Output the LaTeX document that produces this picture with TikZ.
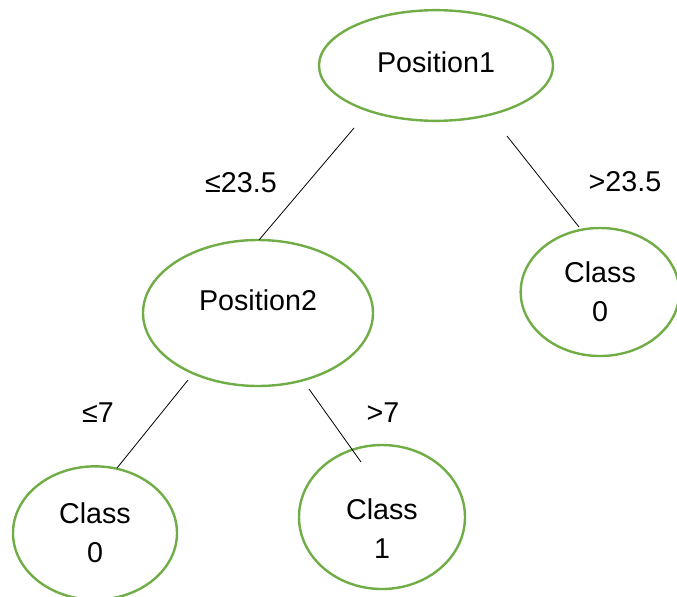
\documentclass[tikz,border=0pt]{standalone}
\usepackage{fontspec}
\setmainfont{Liberation Sans}
\usetikzlibrary{shapes.geometric}
\definecolor{leafgreen}{HTML}{70AD47}
\begin{document}
\begin{tikzpicture}[x=0.75pt,y=-0.75pt,
  treenode/.style={ellipse,draw=leafgreen,line width=1.8pt,inner sep=0pt,
    align=center,font=\fontsize{21.5}{29}\selectfont},
  edge/.style={draw=black,line width=0.6pt},
  edgelabel/.style={font=\fontsize{21.5}{29}\selectfont,inner sep=0pt}]
\useasboundingbox (0,0) rectangle (677,596);
\clip (0,0) rectangle (677,596);
% tree nodes (raisebox shifts the centred text by half its amount)
\node[treenode,minimum width=175.5pt,minimum height=83pt] (p1) at (436,65.5) {\raisebox{5.2pt}{Position1}};
\node[treenode,minimum width=172.5pt,minimum height=109.5pt] (p2) at (258,313) {\raisebox{19.5pt}{Position2}};
\node[treenode,minimum width=119pt,minimum height=96pt] (cr) at (600,292) {Class\\0};
\node[treenode,minimum width=123pt,minimum height=100pt] (cl) at (95,533) {Class\\0};
% a tall invisible rule on the first line pushes this text block down
\node[treenode,minimum width=124.5pt,minimum height=108pt] (cm) at (382,517) {\rule{0pt}{33pt}Class\\1};
% connector end points
\coordinate (e1a) at (354,128);
\coordinate (e1b) at (259,240);
\coordinate (e2a) at (507,136);
\coordinate (e2b) at (579,227);
\coordinate (e3a) at (188,380);
\coordinate (e3b) at (117,468);
\coordinate (e4a) at (309,389);
\coordinate (e4b) at (361,462);
\draw[edge] (e1a) -- (e1b);
\draw[edge] (e2a) -- (e2b);
\draw[edge] (e3a) -- (e3b);
\draw[edge] (e4a) -- (e4b);
% branch labels
\node[edgelabel] (l1) at (241,183) {≤23.5};
\node[edgelabel] (l2) at (625,182) {>23.5};
\node[edgelabel] (l3) at (98,413) {≤7};
\node[edgelabel] (l4) at (383,413) {>7};
\end{tikzpicture}
\end{document}
